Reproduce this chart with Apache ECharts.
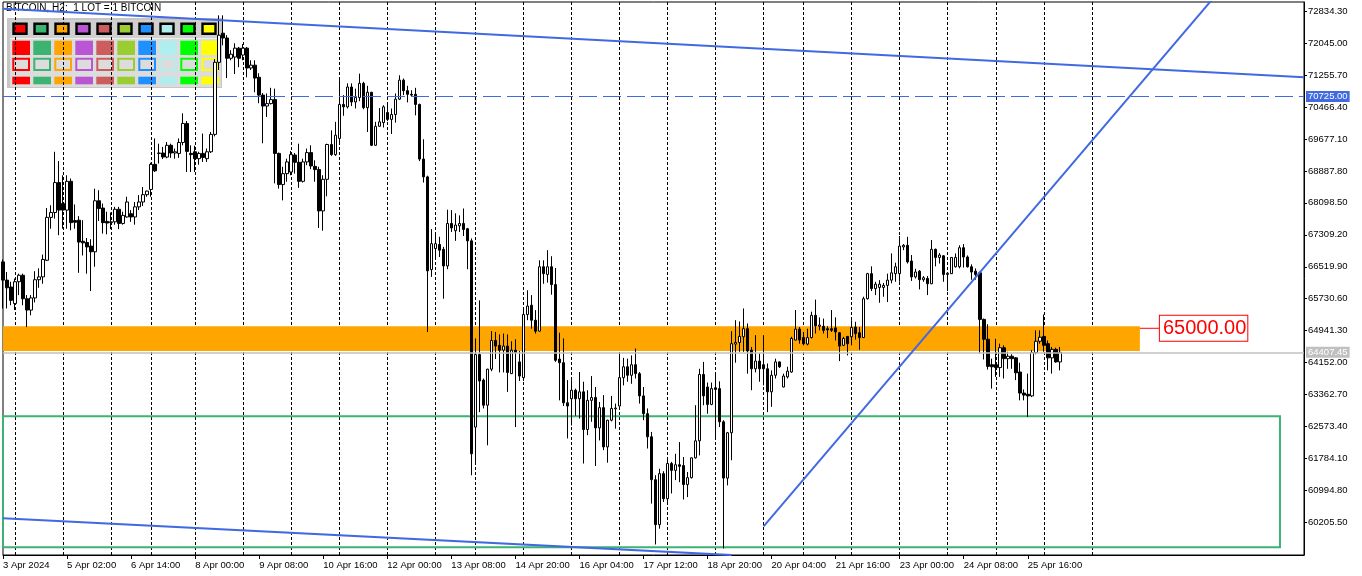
<!DOCTYPE html>
<html><head><meta charset="utf-8">
<script src="https://cdn.jsdelivr.net/npm/echarts@6/dist/echarts.min.js"></script>
<style>html,body{margin:0;padding:0;background:#fff;}#c{width:1362px;height:576px;}</style>
</head><body><div id="c"></div>
<script>
// ---- data (H2 candles, BITCOIN) ----
const opens = [66640,66190,66020,65610,66150,66310,65730,65450,65750,66200,66270,66680,67740,67860,68600,68080,67920,68630,67660,67670,67150,67120,67030,66890,68150,67970,67640,67610,67630,67940,67590,67750,67830,67750,68000,68120,68300,68430,69050,69320,69330,69230,69520,69330,69320,69590,70060,69320,69360,69190,69320,69190,69360,69790,71570,72290,72170,71670,71700,71920,71750,71920,71430,71500,71200,70760,70490,70550,70650,69320,68550,68820,68860,69280,69100,68630,69110,69340,69000,68920,67900,68680,69540,69290,69690,70530,70470,70960,70590,70700,71050,70450,70830,69520,69990,70080,70330,70160,70280,70660,71130,70870,70780,70780,70530,69180,68740,66450,66970,67070,66950,66540,67590,67410,67530,67590,67460,67160,62560,64350,63720,63100,63990,64700,64580,64460,64560,63880,64460,64170,63780,65340,65570,65200,64930,66520,66330,66520,66080,64240,64150,63160,63260,63470,63260,63430,62500,63220,63290,62540,63040,62070,62730,63010,63080,63780,64050,63840,64100,63880,63330,62890,62320,61260,60150,61410,60790,61660,61490,61630,61610,61140,61310,61800,62220,63860,63550,63120,63530,63510,62690,61300,62420,64610,64650,64790,64990,64460,64000,64190,64100,64000,63430,63840,64170,63550,63800,63920,64710,64980,64770,64610,64770,65320,65050,65050,64990,64990,65010,64890,64580,64800,64790,65030,64890,64770,65730,66350,65980,66010,66010,66060,66190,66350,66350,67010,67050,66660,66270,66410,66200,66230,66100,66950,66750,66790,66330,66350,66520,66520,66990,66760,66520,66410,66370,65220,64730,64100,64100,64030,64520,64250,64310,64270,63920,63400,63370,63330,64400,64680,64800,64620,64270,64480,64170];
const highs = [66700,66390,66150,66230,66350,66350,65820,65820,66410,66480,66820,67970,68040,69360,69130,68780,68780,68700,68060,67770,67670,67230,67200,68450,68410,68080,67880,67860,68000,68000,67880,68250,67920,68120,68290,68490,68400,69090,69690,69560,69480,69600,69560,69440,69690,70310,70120,69520,69510,69360,69810,69440,69850,71650,72730,72730,72240,71870,72040,71950,72020,71950,71620,71620,71300,70810,70800,70940,70920,69340,68990,69190,69380,69330,69560,69190,69440,69520,69150,68990,68780,69560,69890,70100,71130,70760,71050,71050,70920,71290,71090,70990,70840,70100,70440,70510,70530,70430,70800,71250,71170,70990,70880,70940,70550,69670,68770,67450,67340,67260,67010,67930,67920,67840,67790,67960,67480,67220,64750,65690,63760,64000,64930,64910,64850,64870,64850,64680,64730,64440,65500,65940,65820,65450,66680,66680,66930,66780,66490,64890,64750,63720,63720,63510,63920,63680,63470,63820,63550,63180,63350,62740,63330,63140,64400,64270,64250,64330,64500,63920,63550,63020,62440,61370,61530,61470,61780,61700,61900,62190,61820,61450,61810,63100,64000,64170,63660,63660,63850,63690,62730,62440,64930,65200,65170,65490,65120,64540,64830,64380,64830,64130,63960,64250,64180,63880,64050,64790,65450,65030,64910,64990,65410,65710,65270,65240,65050,65450,65270,64910,64790,64810,65200,65160,65030,65780,66370,66530,66150,66190,66120,66350,66850,66620,67280,67080,67260,66810,66470,66440,66290,66290,67180,66970,66860,66810,66390,66760,66850,67050,67080,66800,66580,66480,66400,65240,65100,64250,64740,64620,64580,64420,64360,64290,64150,63490,63880,64460,64950,64950,65340,64700,64540,64520,64540];
const lows = [65490,65490,65570,65450,65820,65570,65030,65320,65640,66000,66100,66660,67460,67710,67300,67460,67460,67420,67460,66370,66800,66350,65920,66520,67650,67340,67320,67450,67560,67450,67560,67730,67630,67560,67920,68020,68250,68250,68860,69070,69180,69200,69210,69190,69210,69520,68860,68860,68860,69040,69110,69110,69330,69740,71380,71990,71180,71620,71280,71450,71620,71200,71380,70830,70560,69570,70220,70530,68580,68450,68160,68620,68780,68820,68470,68600,69030,68930,68620,67480,67410,68260,69260,69260,69560,70250,70430,70490,70430,70610,70410,69850,69500,69510,69980,69960,70120,69800,70080,70640,70760,70580,70720,70260,69130,68600,64910,66270,66740,66760,65730,66460,67380,67160,67380,67280,66460,61370,61700,62930,63020,62110,63940,64240,63910,63910,63430,63870,62560,63700,63700,65200,64990,64870,64920,66100,66130,65830,64170,63220,63080,62280,62600,62840,62770,61660,62360,62690,61600,62230,61990,61680,62700,62520,63060,63590,63680,63630,63760,63140,62730,62030,60670,59660,60050,60710,60710,60920,61250,61200,60770,60830,61290,61780,61860,63100,62890,63100,62290,62560,59560,61120,61740,64150,64420,64420,63880,63470,63910,63680,63590,62930,63060,63760,64020,63540,63760,63900,64700,64620,64580,64580,64750,64870,64950,64870,64760,64910,64700,64190,64560,64330,64580,64720,64470,64760,65710,65920,65820,65630,65780,65650,66110,66150,66150,66930,66600,66170,66230,65960,66150,65820,66090,66530,66600,66150,65920,66340,66500,66480,66500,66500,66200,66200,64380,64230,63980,63510,63800,63800,63760,64000,64000,63720,63220,63220,62810,63300,64360,64620,64420,63960,63880,64150,63960];
const closes = [66190,66000,65690,66150,66310,65730,65450,65750,66200,66270,66700,67740,67860,68600,67920,67920,68630,67610,67620,67130,67110,67010,66890,68150,67960,67610,67600,67630,67940,67590,67790,68120,67750,68000,68120,68300,68390,69050,68890,69330,69230,69520,69330,69360,69590,70060,69370,69290,69190,69320,69220,69360,69790,71570,72240,72170,71670,71770,71920,71670,71920,71430,71500,71180,70760,70490,70550,70650,69320,68550,68820,69110,69290,69100,68630,69110,69340,69010,68920,67900,68680,69540,69290,69770,70530,70470,70960,70590,70700,71050,70450,70830,69520,69990,70100,70470,70160,70280,70660,71130,70870,70780,70760,70530,69180,68740,66420,67090,67090,66930,66540,67590,67480,67550,67590,67440,67160,61900,64350,63700,63100,63990,64700,64560,64460,64560,63910,64460,64400,63820,65340,65550,65200,64930,66520,66350,66520,66080,64210,64150,63160,63080,63470,63260,63430,62500,63220,63290,62540,63040,62070,62730,63020,63030,63780,64050,63840,64100,63880,63330,62890,62320,61260,60150,61410,60790,61660,61490,61630,61590,61140,61310,61800,62220,63860,63330,63120,63510,63490,62690,61300,62420,64620,64650,64800,64990,64440,64000,64190,64000,64000,63430,63840,64170,64050,63820,63940,64750,64980,64710,64620,64770,65320,65060,65080,64950,64960,64950,64910,64560,64750,64620,65020,64870,64770,65730,66350,65980,66090,66090,66060,66190,66370,66520,67030,67050,66640,66270,66390,66200,66250,66100,66950,66750,66810,66330,66360,66750,66750,66990,66760,66520,66390,66330,65220,64730,64060,64050,64030,64520,64250,64310,64250,63900,63400,63350,63330,64400,64680,64780,64580,64270,64480,64170,64407];

// price-axis tick labels
const priceTicks = [60205.50,60994.80,61784.10,62573.40,63362.70,64152.00,64941.30,65730.60,66519.90,67309.20,68098.50,68887.80,69677.10,70466.40,71255.70,72045.00,72834.30];
// time-axis tick labels (one every 16 bars)
const timeLabels = ['3 Apr 2024','5 Apr 02:00','6 Apr 14:00','8 Apr 00:00','9 Apr 08:00','10 Apr 16:00','12 Apr 00:00','13 Apr 08:00','14 Apr 20:00','16 Apr 04:00','17 Apr 12:00','18 Apr 20:00','20 Apr 04:00','21 Apr 16:00','23 Apr 00:00','24 Apr 08:00','25 Apr 16:00'];
const labelEvery = 16;

// trading sessions (H2 bars) – day name and bar hours
const H12 = [0,2,4,6,8,10,12,14,16,18,20,22];
const days = [
  ['3 Apr',[18,20,22]],['4 Apr',H12],['5 Apr',H12],['6 Apr',[0,6,8,10,12,14,16,18,20,22]],
  ['7 Apr',[0,2,6,8,10,12,14,16,18,20,22]],['8 Apr',H12],['9 Apr',H12],['10 Apr',H12],['11 Apr',H12],
  ['12 Apr',H12],['13 Apr',[0,2,4,6,8,14,16,18,20,22]],['14 Apr',H12],['15 Apr',H12],['16 Apr',H12],
  ['17 Apr',H12],['18 Apr',H12],['19 Apr',H12],['20 Apr',[0,2,4,10,12,14,16,18,20,22]],['21 Apr',H12],
  ['22 Apr',H12],['23 Apr',H12],['24 Apr',H12],['25 Apr',H12],['26 Apr',H12],['27 Apr',H12],
  ['28 Apr',H12],['29 Apr',H12],['30 Apr',H12],['1 May',H12]
];
const slotCount = 326;
const lastGridDay = '27 Apr 00:00';

// horizontal levels and drawn objects
const askLevel = 70725.00;
const bidLevel = 64407.45;
const zoneOrange = {from: 0, to: 284, top: 65050, bottom: 64440};
const zoneLabel = {value: 65000, from: 284, to: 289, text: '65000.00'};
const zoneGreen = {from: 0, to: 319, top: 62830, bottom: 59590};
const trendTop = [[0, 72893], [325, 71203]];
const trendLow = [[0, 60306], [182, 59398]];
const trendRise = [[190, 60109], [310, 74045]];
const paletteColors = ['#FF0000','#3CB371','#FFA500','#BA55D3','#CD5C5C','#9ACD32','#1E90FF','#AFEEEE','#00FF00','#FFFF00'];

// ---- build ----
const categories = [];
days.forEach(([d, hrs]) => hrs.forEach(h => categories.push(d + ' ' + String(h).padStart(2,'0') + ':00')));
categories.length = slotCount;
const gridEnd = categories.indexOf(lastGridDay);
const candles = opens.map((o, i) => [o, closes[i], lows[i], highs[i]]);

const FONT = 'Liberation Sans';
const blue = '#4169E1';

const palette = [];
palette.push({type:'rect', shape:{x:7,y:18,width:215,height:70}, style:{fill:'#C6C6C6'}});
palette.push({type:'rect', shape:{x:10,y:39,width:211,height:48}, style:{fill:'#DCDCDC'}});
palette.push({type:'rect', shape:{x:10,y:20,width:211,height:18}, style:{fill:'#D0D0D0'}});
palette.push({type:'line', shape:{x1:10,y1:38.5,x2:221,y2:38.5}, style:{stroke:'#EFEFEF',lineWidth:1}});
paletteColors.forEach((c, i) => {
  const x = 12.3 + 21 * i;
  palette.push({type:'rect', shape:{x:x+1.2,y:23.8,width:13,height:10}, style:{fill:c, stroke:'#000', lineWidth:2.4}});
  palette.push({type:'rect', shape:{x:x,y:40.7,width:17.7,height:14.3}, style:{fill:c}});
  palette.push({type:'rect', shape:{x:x+1,y:58.7,width:15.7,height:11.3}, style:{fill:'#DCDCDC', stroke:c, lineWidth:2}});
  palette.push({type:'rect', shape:{x:x,y:76.7,width:17.7,height:7.6}, style:{fill:c}});
});

const chart = echarts.init(document.getElementById('c'), null, {renderer:'canvas'});
chart.setOption({
  animation: false,
  backgroundColor: '#fff',
  textStyle: {fontFamily: FONT},
  grid: {left: 2, top: 2, width: 1302, height: 553, show: true, borderColor: '#000', borderWidth: 1, backgroundColor: '#fff'},
  xAxis: {
    type: 'category', data: categories, boundaryGap: false,
    axisLine: {show: true, lineStyle: {color: '#000', width: 1}},
    axisTick: {show: true, length: 4, interval: i => i % labelEvery === 0 && i / labelEvery < timeLabels.length, lineStyle: {color: '#000'}},
    axisLabel: {show: true, interval: i => i % labelEvery === 0 && i / labelEvery < timeLabels.length,
      formatter: (v, i) => timeLabels[i / labelEvery] || '', align: 'left', color: '#000', fontSize: 9.5, fontFamily: FONT, margin: 5},
    splitLine: {show: true, interval: (i, v) => typeof v === 'string' && v.endsWith(' 00:00') && i <= gridEnd,
      lineStyle: {color: '#000', type: [3, 2], width: 1}}
  },
  yAxis: {
    type: 'value', position: 'right', min: 59400, max: 73060,
    axisLine: {show: true, onZero: false, lineStyle: {color: '#000', width: 1}},
    axisTick: {show: true, length: 3, customValues: priceTicks, lineStyle: {color: '#000'}},
    axisLabel: {show: true, customValues: priceTicks, formatter: v => v.toFixed(2), color: '#000', fontSize: 9.5, fontFamily: FONT, margin: 4},
    splitLine: {show: false}
  },
  graphic: [
    {type: 'text', left: 6, top: 3, z: 1, style: {text: 'BITCOIN, H2:  1 LOT = 1 BITCOIN', font: '10px "Liberation Sans"', fill: '#000'}},
    {type: 'group', z: 100, children: palette}
  ],
  series: [
    {type: 'line', data: [], z: 1, silent: true,
      markArea: {silent: true, itemStyle: {color: '#FFA500', opacity: 1},
        data: [[{xAxis: zoneOrange.from, yAxis: zoneOrange.top}, {xAxis: zoneOrange.to, yAxis: zoneOrange.bottom}]]},
      markLine: {silent: true, symbol: ['none','none'],
        data: [{yAxis: bidLevel, lineStyle: {color: '#C0C0C0', type: 'solid', width: 1.5},
          label: {show: true, position: 'end', formatter: bidLevel.toFixed(2), color: '#fff', backgroundColor: '#C0C0C0', padding: [1,2,0,2], fontSize: 9.5, fontFamily: FONT, distance: 2}}]}
    },
    {type: 'candlestick', data: candles, z: 2, barWidth: 3, clip: true,
      itemStyle: {color: '#fff', color0: '#000', borderColor: '#000', borderColor0: '#000', borderWidth: 1}},
    {type: 'line', data: [], z: 4, silent: true,
      markArea: {silent: true, itemStyle: {color: 'rgba(0,0,0,0)', borderColor: '#3CB371', borderWidth: 2},
        data: [[{xAxis: zoneGreen.from, yAxis: zoneGreen.top}, {xAxis: zoneGreen.to, yAxis: zoneGreen.bottom}]]},
      markLine: {silent: true, symbol: ['none','none'],
        data: [{yAxis: askLevel, lineStyle: {color: blue, type: [18, 6], width: 1},
          label: {show: true, position: 'end', formatter: askLevel.toFixed(2), color: '#fff', backgroundColor: blue, padding: [1,2,0,2], fontSize: 9.5, fontFamily: FONT, distance: 2}}]}
    },
    {type: 'line', data: trendTop, z: 5, symbol: 'none', clip: true, silent: true, lineStyle: {color: blue, width: 2}},
    {type: 'line', data: trendLow, z: 5, symbol: 'none', clip: true, silent: true, lineStyle: {color: blue, width: 2}},
    {type: 'line', data: trendRise, z: 5, symbol: 'none', clip: true, silent: true, lineStyle: {color: blue, width: 2}},
    {type: 'line', data: [[zoneLabel.from, zoneLabel.value], [zoneLabel.to, zoneLabel.value]], z: 5, symbol: 'none', clip: false, silent: true,
      lineStyle: {color: '#FF0000', width: 1},
      endLabel: {show: true, formatter: zoneLabel.text, color: '#FF0000', backgroundColor: '#fff', borderColor: '#FF0000', borderWidth: 1,
        padding: [3, 1, 2, 3], fontSize: 20, fontFamily: FONT, distance: 0}}
  ]
});
</script></body></html>
